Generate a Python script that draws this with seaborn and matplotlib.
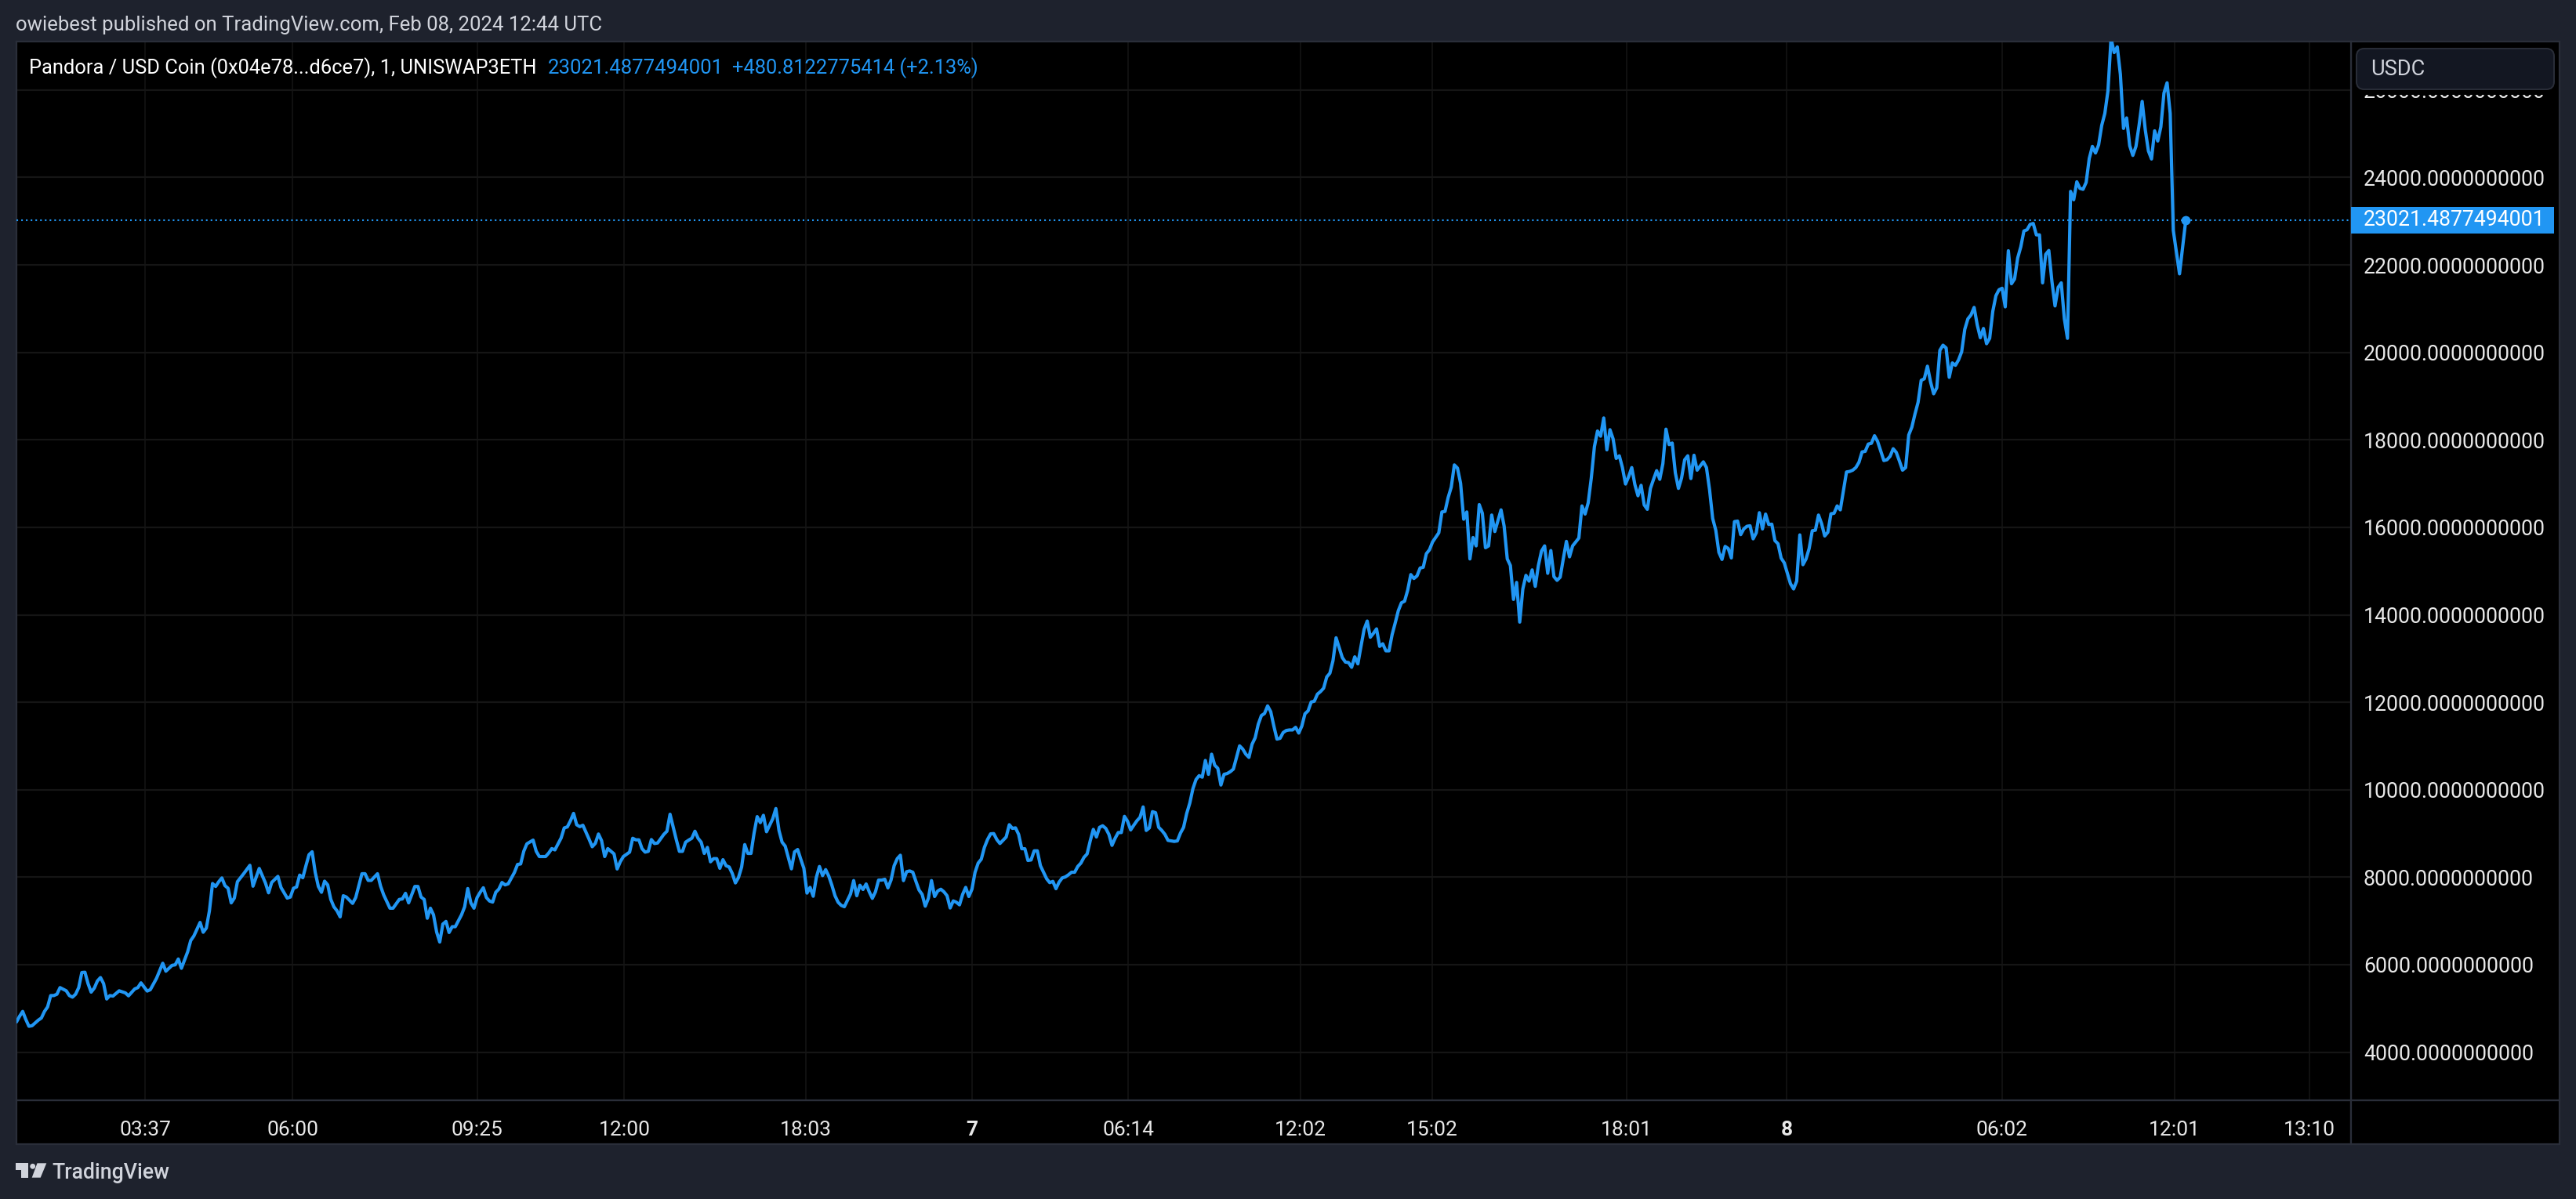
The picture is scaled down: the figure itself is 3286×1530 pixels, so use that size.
import matplotlib
matplotlib.use('Agg')
import matplotlib.pyplot as plt
from matplotlib.patches import Rectangle, Polygon, Circle, FancyBboxPatch
import seaborn as sns

# 1 minute bars (bar number, price), split by stretch of the chart
bars_a = [0, 1, 2, 3, 4, 5, 7, 8, 9, 10, 11, 12, 13, 14, 16, 17, 18, 19, 20, 21, 22, 23, 24, 25, 26, 27, 28, 29, 30, 31, 33, 35, 36, 38, 39, 40, 42, 43, 45, 47, 48, 50, 51, 52, 53, 55, 56, 57, 59, 60, 61, 62, 63, 64, 65, 66, 67, 68, 69, 70, 71, 73, 75, 76, 78, 80, 81, 82, 84, 85, 87, 88, 89, 90, 91, 92, 93, 94, 95, 96, 97, 98, 99, 100, 101, 102, 103, 104, 105, 106, 108, 109, 111, 112, 113, 114, 116, 117, 118, 120, 121, 123, 124, 125, 126, 128, 129, 130, 131, 132, 133, 134, 135, 136, 137, 138, 139, 140, 141, 143, 144, 145, 146, 147, 148, 149, 150, 151, 152, 153, 154, 155, 156, 157, 158, 160, 161, 162, 163, 164, 166, 167, 168, 170, 171, 172, 173, 175, 176, 177, 178, 179, 180, 181, 182, 184, 185, 186, 187, 188, 189, 190, 191, 192, 193]
prices_a = [4690, 4821, 4930, 4748, 4591, 4603, 4730, 4779, 4930, 5033, 5293, 5293, 5324, 5475, 5402, 5293, 5257, 5324, 5475, 5820, 5826, 5566, 5372, 5463, 5626, 5705, 5566, 5215, 5293, 5281, 5402, 5354, 5287, 5445, 5475, 5584, 5396, 5427, 5687, 6032, 5850, 5984, 5996, 6129, 5917, 6292, 6553, 6656, 6965, 6741, 6837, 7231, 7855, 7788, 7897, 7982, 7806, 7746, 7413, 7522, 7897, 8079, 8272, 7794, 8200, 7867, 7643, 7879, 8018, 7764, 7522, 7546, 7746, 7776, 8048, 7988, 8260, 8515, 8581, 8109, 7788, 7655, 7909, 7824, 7491, 7322, 7231, 7092, 7576, 7546, 7401, 7534, 8079, 8079, 7927, 7927, 8079, 7794, 7594, 7291, 7291, 7491, 7503, 7631, 7413, 7788, 7788, 7546, 7491, 7061, 7291, 7140, 6747, 6517, 6928, 6989, 6735, 6868, 6868, 7140, 7322, 7740, 7413, 7291, 7534, 7655, 7758, 7534, 7455, 7431, 7655, 7728, 7879, 7824, 7849, 8109, 8291, 8303, 8593, 8763, 8848, 8593, 8472, 8472, 8551, 8654, 8624, 8896, 9126, 9150, 9290, 9459, 9199, 9156, 9187, 8866, 8696, 8775, 8987, 8836, 8472, 8654, 8593, 8533, 8188]

bars_b = [194, 195, 197, 198, 199, 200, 201, 202, 203, 204, 205, 206, 208, 209, 210, 212, 213, 214, 215, 216, 217, 218, 219, 220, 221, 222, 223, 224, 225, 226, 227, 228, 229, 230, 231, 232, 233, 234, 235, 236, 237, 238, 239, 240, 241, 243, 244, 245, 246]
prices_b = [8352, 8472, 8573, 8890, 8854, 8854, 8651, 8573, 8591, 8860, 8770, 8782, 8979, 9051, 9439, 8860, 8591, 8591, 8800, 8848, 8890, 9051, 8890, 8800, 8543, 8681, 8352, 8424, 8424, 8203, 8400, 8263, 8233, 8084, 7869, 7994, 8233, 8746, 8543, 8543, 9009, 9385, 9248, 9415, 9039, 9337, 9570, 9069, 8800]

bars_c = [247, 249, 250, 251, 252, 253, 254, 255, 256, 257, 258, 259, 260, 261, 262, 263, 264, 265, 266, 268, 269, 270, 271, 272, 273, 274, 275, 276, 277, 278, 279, 280, 281, 282, 283, 284, 285, 286, 287, 288, 289, 290, 291, 292, 293, 294, 295, 296, 297, 298, 299, 300, 301, 302, 303, 304, 305, 306, 307, 308, 309, 310, 311, 312, 313, 314, 315, 316, 318, 319, 320, 321, 322, 323, 324, 325, 326, 327, 328, 329, 330, 331, 332, 333, 334, 335, 336, 337, 338, 339, 340, 341, 342, 343, 344, 345, 346, 347, 348, 349, 350, 351, 352, 353, 354, 355, 356, 357, 358, 359, 360, 361, 362, 363, 364, 365, 366, 367, 368, 369, 370, 372, 373, 374, 375, 376, 377, 378, 379, 380, 381, 382, 383, 384, 385, 386, 387, 388, 389, 390, 391, 392, 393, 394, 395, 396, 397]
prices_c = [8710, 8191, 8579, 8633, 8412, 8203, 7636, 7767, 7564, 7994, 8245, 8036, 8173, 8024, 7815, 7576, 7427, 7355, 7325, 7618, 7922, 7576, 7815, 7719, 7845, 7666, 7516, 7666, 7934, 7934, 7952, 7755, 7934, 8263, 8424, 8502, 7922, 8125, 8143, 8113, 7904, 7707, 7606, 7337, 7516, 7922, 7558, 7684, 7725, 7666, 7576, 7296, 7457, 7427, 7367, 7606, 7767, 7558, 7725, 8113, 8322, 8412, 8681, 8860, 8991, 8997, 8860, 8770, 8919, 9200, 9116, 9128, 8979, 8651, 8651, 8382, 8394, 8603, 8603, 8263, 8113, 7964, 7875, 7904, 7737, 7887, 7982, 8006, 8054, 8113, 8113, 8245, 8322, 8454, 8531, 8830, 9093, 8919, 9140, 9176, 9116, 8979, 8728, 8890, 9021, 9021, 9391, 9278, 9081, 9188, 9290, 9367, 9606, 9069, 9128, 9498, 9475, 9140, 9069, 8979, 8842, 8818, 8830, 9009, 9140, 9457, 9695, 10024, 10233, 10322, 10287, 10669, 10352, 10812, 10561, 10489, 10107, 10352, 10370, 10412, 10472, 10740, 11003, 10931, 10812, 10740, 11039]

bars_d = [398, 399, 400, 401, 402, 403, 404, 405, 406, 407, 408, 409, 410, 411, 412, 413, 414, 415, 416, 417, 418, 419, 420, 421, 422, 423, 424, 425, 426, 427, 428, 429, 430, 431, 432, 433, 434, 435, 436, 437, 438, 439, 440, 441, 442, 443, 444, 445, 446, 447, 448, 449, 450, 451, 452, 453, 454, 455, 457, 458, 459, 460, 461, 462, 463, 464, 465, 466, 467, 468, 469, 470, 471, 472, 473, 474, 475, 477, 478, 479, 480, 481, 482, 483, 484, 485, 486, 487, 488, 489, 490, 491, 492, 493, 494, 495, 496, 497, 498, 499, 500, 502, 503, 504, 505, 506, 507, 508, 509, 510, 511, 512, 513, 514, 515, 516, 517, 518, 519, 520, 521, 522, 523, 524, 525, 526, 527, 528, 529, 530, 531, 532, 533, 534, 535, 536, 537, 538, 539, 540, 542, 543, 544, 545, 546, 547, 548, 549, 550, 551, 552, 553, 554, 555, 556, 557, 558, 559, 560, 561, 562, 563, 564, 565, 566, 567, 568, 569, 570, 571, 572, 573, 574, 575, 576, 577, 578, 579, 580, 581, 582, 583, 584, 585, 586, 587, 588, 589, 590, 591, 592, 593, 594, 595, 596, 597, 598, 600, 601, 602, 603, 604, 605, 606, 607, 608, 609, 610, 611]
prices_d = [11188, 11499, 11696, 11743, 11917, 11785, 11457, 11158, 11176, 11308, 11355, 11367, 11367, 11427, 11296, 11457, 11737, 11803, 12006, 12024, 12185, 12245, 12322, 12579, 12663, 12949, 13475, 13248, 13021, 12919, 12908, 12800, 13039, 12878, 13278, 13666, 13857, 13487, 13576, 13678, 13278, 13337, 13176, 13176, 13546, 13815, 14096, 14275, 14311, 14561, 14919, 14830, 14890, 15069, 15087, 15397, 15487, 15666, 15875, 16352, 16364, 16681, 16919, 17427, 17355, 17009, 16185, 16352, 15278, 15767, 15576, 16519, 16322, 15534, 15576, 16281, 15904, 16400, 16024, 15278, 15128, 14352, 14740, 13833, 14591, 14902, 14770, 15027, 14651, 15128, 15457, 15576, 14949, 15469, 14872, 14788, 14860, 15278, 15678, 15325, 15576, 15755, 16490, 16304, 16561, 17128, 17845, 18203, 18084, 18501, 17773, 18233, 18024, 17576, 17636, 17367, 16991, 17158, 17367, 16979, 16722, 16961, 16513, 16412, 16890, 17098, 17296, 17098, 17457, 18245, 17892, 17928, 17248, 16890, 17128, 17546, 17636, 17116, 17648, 17307, 17498, 17367, 16860, 16203, 15934, 15427, 15266, 15564, 15516, 15301, 16131, 16143, 15833, 15964, 16024, 16036, 15737, 15875, 16334, 15964, 16304, 16066, 16072, 15696, 15624, 15296, 15188, 14949, 14710, 14591, 14770, 15827, 15146, 15278, 15516, 15922, 15934, 16281, 16084, 15803, 15887, 16310, 16322, 16490, 16400, 16830, 17266, 17278, 17307, 17367, 17487, 17725, 17737, 17904, 17922, 18095, 17964, 17528, 17546, 17624, 17797, 17713, 17516, 17307, 17367, 18113, 18292, 18591, 18860]

bars_e = [612, 613, 614, 615, 616, 617, 618, 619, 620, 621, 622, 623, 624, 625, 626, 627, 628, 629, 630, 631, 632, 633, 634, 635, 636, 637, 638, 639, 640, 641, 642, 643, 644, 645, 646, 647, 648, 649, 650, 651, 652, 653, 654, 655, 656, 657, 658, 659, 660, 661, 662, 663, 664, 665, 666, 667, 668, 669, 670, 671, 672, 673, 674, 675, 676, 677, 678, 679, 680, 681, 682, 683, 684, 685, 686, 687, 688, 689, 690, 691, 692, 693, 695, 697]
prices_e = [19362, 19397, 19685, 19328, 19054, 19191, 20048, 20165, 20103, 19431, 19760, 19705, 19829, 20014, 20528, 20768, 20857, 21029, 20631, 20336, 20548, 20199, 20322, 20939, 21296, 21433, 21467, 21042, 22325, 21570, 21680, 22160, 22414, 22777, 22805, 22928, 22949, 22688, 22688, 21591, 22242, 22331, 21625, 21063, 21488, 21591, 20768, 20322, 23682, 23490, 23902, 23751, 23730, 23888, 24436, 24711, 24560, 24745, 25191, 25465, 25979, 27180, 26857, 26987, 26357, 25122, 25362, 24725, 24505, 24711, 25191, 25739, 25088, 24608, 24423, 25067, 24834, 25157, 25931, 26165, 25465, 22791, 21797, 23021.4877494001]

bars = bars_a + bars_b + bars_c + bars_d + bars_e
prices = prices_a + prices_b + prices_c + prices_d + prices_e

last_price = 23021.4877494001
price_ticks = [4000, 6000, 8000, 10000, 12000, 14000, 16000, 18000, 20000, 22000, 24000, 26000]
time_ticks = [41.3, 88.7, 148, 195.3, 253.6, 307, 357.2, 412.6, 454.9, 517.4, 568.8, 638, 693.5, 736.8]
time_labels = ['03:37', '06:00', '09:25', '12:00', '18:03', '7', '06:14', '12:02', '15:02', '18:01', '8', '06:02', '12:01', '13:10']

BG = '#1e222d'
BORDER = '#2a2e39'
BLUE = '#2196f3'
GRID = '#151515'
TEXT = '#d1d4dc'
AXIS_TEXT = '#e8e8e8'

W, H = 3286, 1530
LEFT, RIGHT, TOP, BOTTOM = 21, 2999, 53, 1404


def fx(px):
    return px / W


def fy(py):
    return 1 - py / H


sns.set_theme(style='dark', rc={'axes.facecolor': 'black', 'figure.facecolor': BG})
plt.rcParams['font.family'] = ['Roboto', 'DejaVu Sans']

fig = plt.figure(figsize=(W / 100, H / 100), dpi=100, facecolor=BG)


def panel(x0, y0, x1, y1, color='black', edge=BORDER, z=0):
    r = Rectangle((fx(x0), fy(y1)), fx(x1) - fx(x0), fy(y0) - fy(y1), transform=fig.transFigure,
                  facecolor=color, edgecolor=edge, linewidth=1.6, zorder=z)
    fig.add_artist(r)
    return r


# time scale and price scale strips
panel(LEFT, BOTTOM, RIGHT, 1460)
panel(RIGHT, BOTTOM, 3265, 1460)
panel(RIGHT, TOP, 3265, BOTTOM)

ax = fig.add_axes([fx(LEFT), fy(BOTTOM), fx(RIGHT - LEFT), fy(TOP) - fy(BOTTOM)], zorder=2)
ax.set_facecolor('black')

sns.lineplot(x=bars, y=prices, ax=ax, color=BLUE, linewidth=3.0, estimator=None, zorder=5,
             solid_joinstyle='round')
ax.axhline(last_price, color=BLUE, linewidth=1.5, linestyle=(0, (1, 1.9)), zorder=4)
ax.plot([bars[-1]], [last_price], 'o', color=BLUE, markersize=8.5, markeredgewidth=0, zorder=6)

ax.set_xlim(0, 750.1)
ax.set_ylim(2899, 27109)
ax.set_xlabel('')
ax.set_ylabel('')

ax.set_xticks(time_ticks)
ax.set_xticklabels(time_labels)
ax.set_yticks(price_ticks)
ax.set_yticklabels([f'{p}.0000000000' for p in price_ticks])
ax.yaxis.tick_right()
ax.grid(True, axis='y', color=GRID, linewidth=1.6, zorder=0)
ax.grid(True, axis='x', color=GRID, linewidth=1.1, zorder=0)
ax.set_axisbelow(True)
ax.tick_params(axis='x', length=0, pad=19, labelsize=19, labelcolor=AXIS_TEXT)
ax.tick_params(axis='y', length=0, pad=11.5, labelsize=19.2, labelcolor=AXIS_TEXT, right=False)
for lab in ax.get_xticklabels():
    if lab.get_text() in ('7', '8'):
        lab.set_fontweight('bold')
for s in ax.spines.values():
    s.set_edgecolor(BORDER)
    s.set_linewidth(1.6)

# currency box sits on top of the clipped 26000 label
panel(RIGHT + 2, 58, 3263, 120.5, edge='none', z=5)
box = FancyBboxPatch((fx(3006), fy(114)), fx(252), fy(62) - fy(114), boxstyle='round,pad=0,rounding_size=0.003',
                     transform=fig.transFigure, facecolor='#131722', edgecolor=BORDER, linewidth=1.4, zorder=6,
                     mutation_aspect=W / H)
fig.add_artist(box)
fig.text(fx(3024), fy(88), 'USDC', color=TEXT, fontsize=19.5, va='center', ha='left', zorder=7)

# last price tag
tag = Rectangle((fx(2999), fy(298)), fx(259), fy(264) - fy(298), transform=fig.transFigure, facecolor=BLUE,
                edgecolor='none', zorder=6)
fig.add_artist(tag)
fig.text(fx(3015), fy(281), '23021.4877494001', color='white', fontsize=19.2, va='center', ha='left', zorder=7)

# header text
fig.text(fx(20), fy(32), 'owiebest published on TradingView.com, Feb 08, 2024 12:44 UTC', color=TEXT,
         fontsize=18.5, va='center', ha='left')
fig.text(fx(37), fy(87), 'Pandora / USD Coin (0x04e78...d6ce7), 1, UNISWAP3ETH', color='white', fontsize=18.4,
         va='center', ha='left', zorder=8)
fig.text(fx(699), fy(87), '23021.4877494001', color=BLUE, fontsize=18.5, va='center', ha='left', zorder=8)
fig.text(fx(934), fy(87), '+480.8122775414 (+2.13%)', color=BLUE, fontsize=18.4, va='center', ha='left', zorder=8)

# TradingView mark
logo_t = [(20, 1484.3), (36, 1484.3), (36, 1502.7), (27.3, 1502.7), (27.3, 1492.7), (20, 1492.7)]
logo_v = [(47.5, 1484.3), (59.3, 1484.3), (51.7, 1502.7), (40.7, 1502.7)]
for pts in (logo_t, logo_v):
    fig.add_artist(Polygon([(fx(a), fy(b)) for a, b in pts], closed=True, transform=fig.transFigure,
                           facecolor=TEXT, edgecolor='none'))
fig.add_artist(Circle((41.7, H - 1488.3), 3.4, transform=None, facecolor=TEXT, edgecolor='none'))
fig.text(fx(66), fy(1496), 'TradingView', color=TEXT, fontsize=19.2, fontweight='medium', va='center', ha='left')

fig.savefig('out.png', dpi=100, facecolor=BG)
